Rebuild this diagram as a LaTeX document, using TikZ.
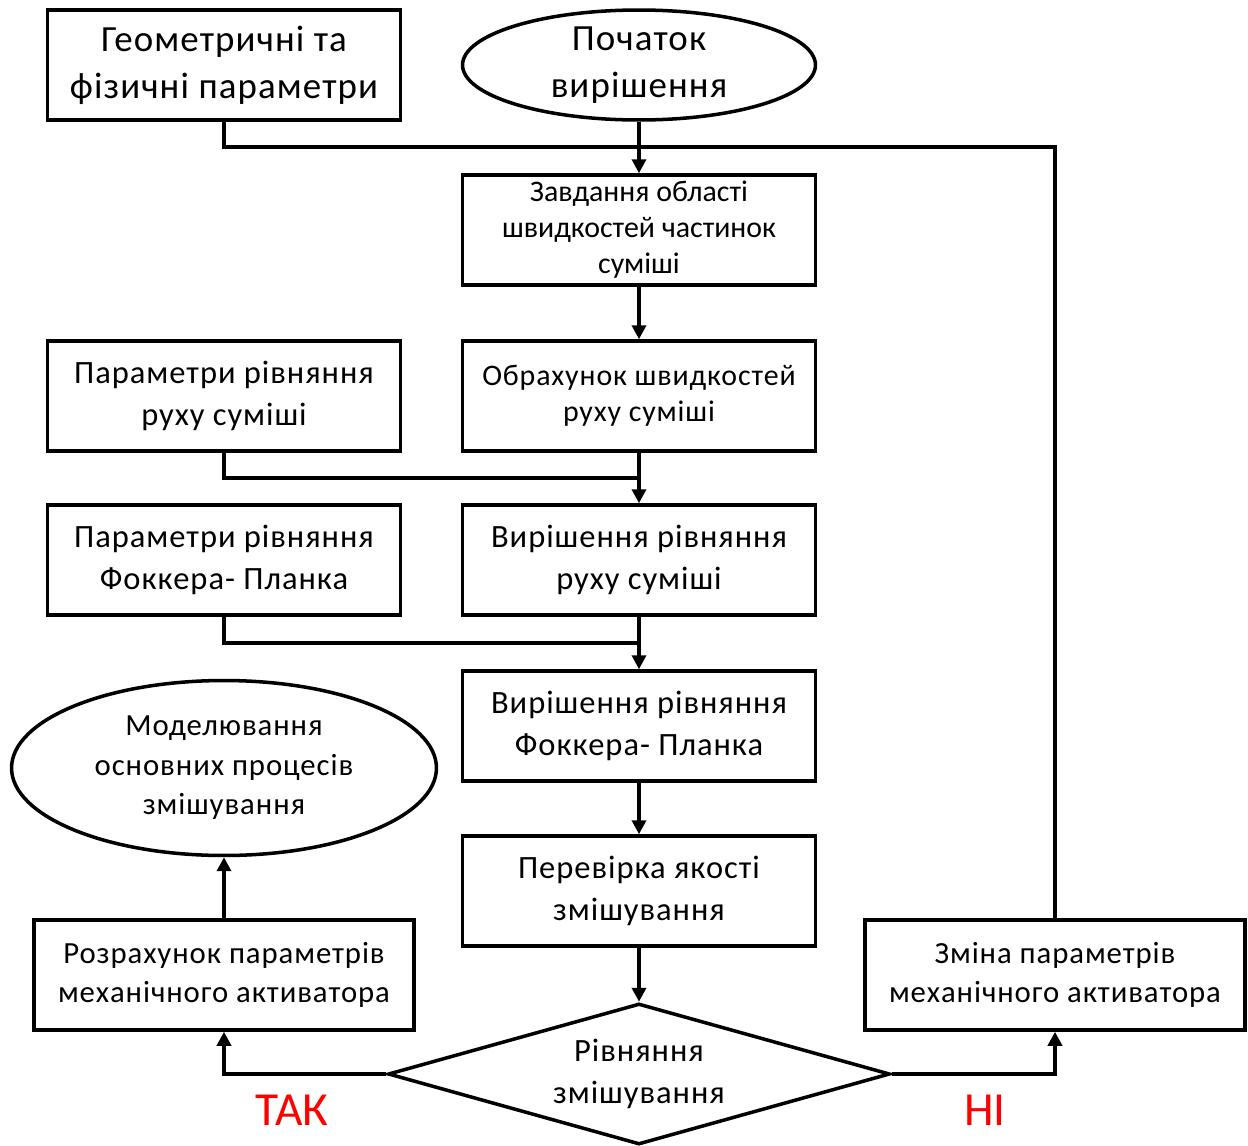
\documentclass[tikz,border=0pt]{standalone}
\usepackage{fontspec}
\setmainfont{Carlito}
\newfontfamily\widefont[LetterSpace=3]{Carlito}
\usetikzlibrary{shapes.geometric,arrows.meta}

\begin{document}
\begin{tikzpicture}[x=0.02cm,y=-0.02cm,line width=2pt,
  box node/.style={rectangle,draw,minimum width=7.06cm,minimum height=2.2cm,align=center,inner sep=0pt},
  wide box node/.style={box node,minimum width=7.6cm},
  end node/.style={ellipse,draw,align=center,inner sep=0pt},
  decision node/.style={diamond,draw,align=center,inner sep=0pt,aspect=3.56,minimum width=10.04cm,minimum height=2.82cm},
  big text/.style={font=\widefont\fontsize{21}{26.7}\selectfont},
  mid text/.style={font=\widefont\fontsize{18.5}{24}\selectfont},
  small text/.style={font=\widefont\fontsize{17.5}{22.5}\selectfont},
  tiny text/.style={font=\fontsize{17}{20.5}\selectfont},
  answer/.style={text=red,font=\fontsize{27}{30}\selectfont},
  arr/.style={-{Triangle[length=0.28cm,width=0.28cm]}}]
\useasboundingbox (0,0) rectangle (1248,1146);

\node[box node,big text] (geom) at (224,65) {Геометричні та\\фізичні параметри};
\node[end node,big text,minimum width=7.06cm,minimum height=2.2cm] (start) at (639,65) {Початок\\вирішення};
\node[box node,tiny text] (zavd) at (639,230) {Завдання області\\швидкостей частинок\\суміші};
\node[box node,font=\widefont\fontsize{17}{20.5}\selectfont] (obrah) at (639,396) {Обрахунок швидкостей\\руху суміші};
\node[box node,mid text] (parRukh) at (224,396) {Параметри рівняння\\руху суміші};
\node[box node,mid text] (vyrRukh) at (639,560) {Вирішення рівняння\\руху суміші};
\node[box node,mid text] (parFP) at (224,560) {Параметри рівняння\\Фоккера- Планка};
\node[box node,mid text] (vyrFP) at (639,726) {Вирішення рівняння\\Фоккера- Планка};
\node[box node,mid text] (perev) at (639,891) {Перевірка якості\\змішування};
\node[decision node,mid text] (dec) at (639,1074) {Рівняння\\змішування};
\node[wide box node,small text] (rozr) at (224,975) {Розрахунок параметрів\\механічного активатора};
\node[end node,small text,minimum width=8.5cm,minimum height=3.5cm] (model) at (224,768) {Моделювання\\основних процесів\\змішування};
\node[wide box node,small text] (zmina) at (1055,975) {Зміна параметрів\\механічного активатора};
\node[answer] (tak) at (292,1110) {ТАК};
\node[answer] (ni) at (985,1110) {НІ};

\coordinate (j1) at (639,147);
\coordinate (j2) at (639,478);
\coordinate (j3) at (639,643);

\draw (geom) |- (j1);
\draw (zmina) |- (j1);
\draw[arr] (start) -- (zavd);
\draw[arr] (zavd) -- (obrah);
\draw (parRukh) |- (j2);
\draw[arr] (obrah) -- (vyrRukh);
\draw (parFP) |- (j3);
\draw[arr] (vyrRukh) -- (vyrFP);
\draw[arr] (vyrFP) -- (perev);
\draw[arr] (perev) -- (dec);
\draw[arr] (dec.west) -| (rozr);
\draw[arr] (rozr) -- (model);
\draw[arr] (dec.east) -| (zmina);

\end{tikzpicture}
\end{document}
